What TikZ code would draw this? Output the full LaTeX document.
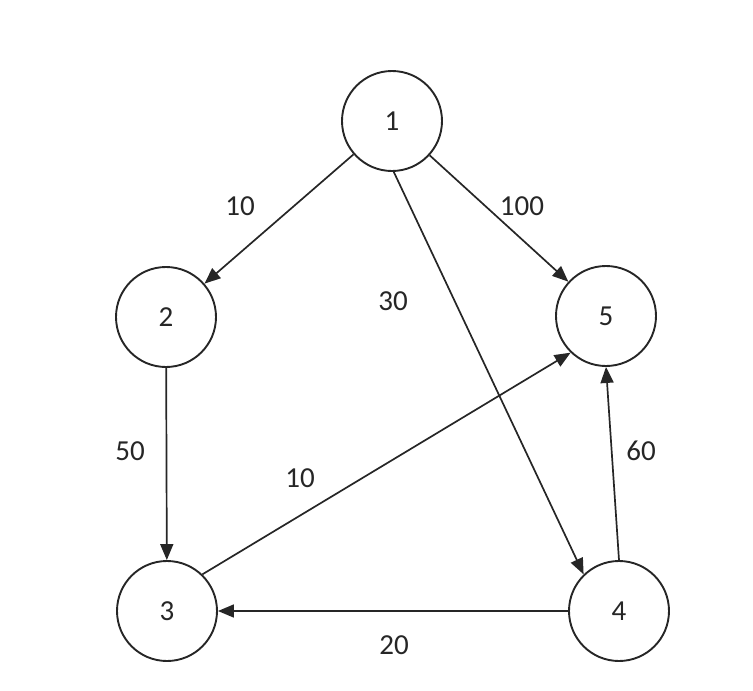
\documentclass[tikz,border=0pt]{standalone}
\usepackage{fontspec}
\setmainfont{Carlito}
\usetikzlibrary{arrows.meta}
\begin{document}
\begin{tikzpicture}[x=1pt,y=-1pt,
  vtx/.style={draw=black!85,line width=1.9pt,circle,minimum size=100pt,inner sep=0pt,
    font=\fontsize{29}{31}\selectfont,text=black!85},
  edge/.style={draw=black!85,line width=1.7pt,-{Triangle[length=16pt,width=13pt]}},
  wlab/.style={font=\fontsize{29}{31}\selectfont,text=black!85,inner sep=0pt}]
\useasboundingbox (0,0) rectangle (753,691);
\node[vtx] (n1) at (392,121) {1};
\node[vtx] (n2) at (166,317) {2};
\node[vtx] (n5) at (606,316) {5};
\node[vtx] (n3) at (167,611) {3};
\node[vtx] (n4) at (619,611) {4};
\draw[edge] (n1) -- (n2);
\draw[edge] (n1) -- (n5);
\draw[edge] (n1.272) -- (n4.134);
\draw[edge] (n2) -- (n3);
\draw[edge] (n3.46) -- (n5.226);
\draw[edge] (n4.north) -- (n5.south);
\draw[edge] (n4.west) -- (n3.east);
\node[wlab] (w12) at (240,206) {10};
\node[wlab] (w15) at (522,206) {100};
\node[wlab] (w14) at (393,301) {30};
\node[wlab] (w23) at (130,451) {50};
\node[wlab] (w35) at (300,478) {10};
\node[wlab] (w45) at (641,451) {60};
\node[wlab] (w43) at (394,645) {20};
\end{tikzpicture}
\end{document}
